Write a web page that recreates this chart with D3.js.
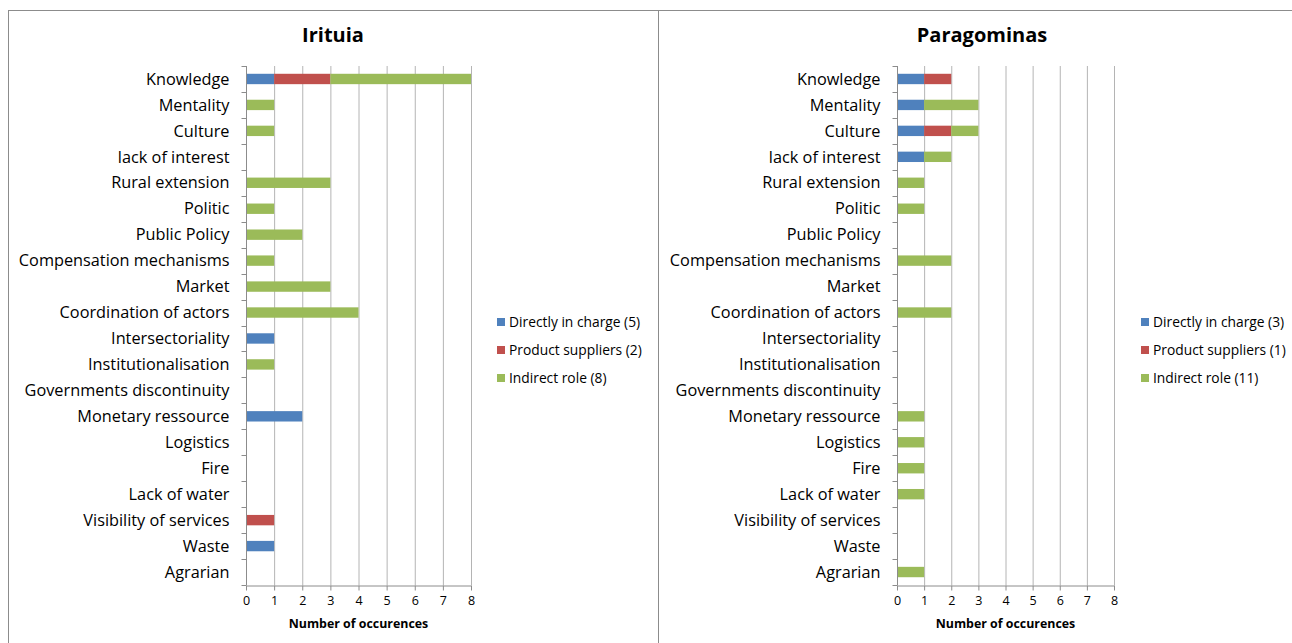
<!DOCTYPE html>
<html>
<head>
<meta charset="utf-8">
<script src="https://cdn.jsdelivr.net/npm/d3@7"></script>
<style>
  body { margin: 0; background: #fff; }
  svg { display: block; font-family: "Open Sans", sans-serif; }
</style>
</head>
<body>
<script>
const categories = ["Knowledge", "Mentality", "Culture", "lack of interest", "Rural extension",
  "Politic", "Public Policy", "Compensation mechanisms", "Market", "Coordination of actors",
  "Intersectoriality", "Institutionalisation", "Governments discontinuity", "Monetary ressource",
  "Logistics", "Fire", "Lack of water", "Visibility of services", "Waste", "Agrarian"];
const seriesKeys = ["direct", "supplier", "indirect"];
const xTicks = [0, 1, 2, 3, 4, 5, 6, 7, 8];

// Irituia
const irituiaDirect   = [1, 0, 0, 0, 0, 0, 0, 0, 0, 0, 1, 0, 0, 2, 0, 0, 0, 0, 1, 0];
const irituiaSupplier = [2, 0, 0, 0, 0, 0, 0, 0, 0, 0, 0, 0, 0, 0, 0, 0, 0, 1, 0, 0];
const irituiaIndirect = [5, 1, 1, 0, 3, 1, 2, 1, 3, 4, 0, 1, 0, 0, 0, 0, 0, 0, 0, 0];
const irituiaLegend = ["Directly in charge (5)", "Product suppliers (2)", "Indirect role (8)"];

// Paragominas
const paraDirect   = [1, 1, 1, 1, 0, 0, 0, 0, 0, 0, 0, 0, 0, 0, 0, 0, 0, 0, 0, 0];
const paraSupplier = [1, 0, 1, 0, 0, 0, 0, 0, 0, 0, 0, 0, 0, 0, 0, 0, 0, 0, 0, 0];
const paraIndirect = [0, 2, 1, 1, 1, 1, 0, 2, 0, 2, 0, 0, 0, 1, 1, 1, 1, 0, 0, 1];
const paraLegend = ["Directly in charge (3)", "Product suppliers (1)", "Indirect role (11)"];

const colors = ["#4F81BD", "#C0504D", "#9BBB59"];

const svg = d3.select("body").append("svg")
  .attr("width", 1292)
  .attr("height", 643);

// panel borders
svg.append("rect")
  .attr("x", 8.5).attr("y", 10.5)
  .attr("width", 650).attr("height", 640)
  .attr("fill", "none").attr("stroke", "#8c8c8c");
svg.append("line")
  .attr("x1", 659).attr("x2", 1292).attr("y1", 10.5).attr("y2", 10.5)
  .attr("stroke", "#8c8c8c");

function drawPanel(opts) {
  const data = categories.map((c, i) => ({
    cat: c, direct: opts.direct[i], supplier: opts.supplier[i], indirect: opts.indirect[i]
  }));
  const stacked = d3.stack().keys(seriesKeys)(data);

  const x = d3.scaleLinear().domain([0, 8]).range([opts.x0, opts.x1]);
  const y = d3.scaleBand().domain(categories).range([opts.top, opts.bottom]).paddingInner(0.6).paddingOuter(0.3);
  const yb = d3.scaleBand().domain(categories).range([opts.top, opts.bottom]);

  const g = svg.append("g");

  g.append("text")
    .attr("x", opts.titleX).attr("y", 42)
    .attr("text-anchor", "middle")
    .attr("font-size", 20).attr("font-weight", "bold")
    .attr("fill", "#000")
    .text(opts.title);

  // gridlines
  g.append("g").selectAll("line")
    .data(xTicks.slice(1))
    .join("line")
    .attr("x1", d => x(d) + 0.5).attr("x2", d => x(d) + 0.5)
    .attr("y1", opts.top).attr("y2", opts.bottom)
    .attr("stroke", "#b4b4b4");

  // bars
  g.append("g").selectAll("g")
    .data(stacked)
    .join("g")
    .attr("fill", (d, i) => colors[i])
    .selectAll("rect")
    .data(d => d.filter(s => s[1] > s[0]))
    .join("rect")
    .attr("x", d => x(d[0]))
    .attr("y", d => y(d.data.cat))
    .attr("width", d => x(d[1]) - x(d[0]))
    .attr("height", y.bandwidth());

  // y axis
  const yAxis = g.append("g")
    .attr("transform", `translate(${opts.x0 + 0.5},0)`);
  yAxis.append("line")
    .attr("y1", opts.top).attr("y2", opts.bottom)
    .attr("stroke", "#8c8c8c");
  yAxis.selectAll(".tk")
    .data(categories.concat(["end"]))
    .join("line")
    .attr("class", "tk")
    .attr("x1", -5).attr("x2", 0)
    .attr("y1", (d, i) => Math.round(opts.top + i * yb.step()) + 0.5)
    .attr("y2", (d, i) => Math.round(opts.top + i * yb.step()) + 0.5)
    .attr("stroke", "#8c8c8c");
  yAxis.selectAll("text")
    .data(categories)
    .join("text")
    .attr("x", -17)
    .attr("y", d => yb(d) + yb.bandwidth() / 2)
    .attr("dy", "0.35em")
    .attr("text-anchor", "end")
    .attr("font-size", 16.3)
    .attr("fill", "#000")
    .text(d => d);

  // x axis
  const xAxis = d3.axisBottom(x).tickValues(xTicks).tickSize(5).tickPadding(6).tickSizeOuter(0);
  const xg = g.append("g")
    .attr("transform", `translate(0,${opts.bottom + 0.5})`)
    .call(xAxis);
  xg.select(".domain").attr("stroke", "#8c8c8c");
  xg.selectAll(".tick line").attr("stroke", "#8c8c8c");
  xg.selectAll(".tick text").attr("font-size", 12.5).attr("fill", "#000")
    .attr("font-family", "Open Sans, sans-serif");

  g.append("text")
    .attr("x", (opts.x0 + opts.x1) / 2).attr("y", 628)
    .attr("text-anchor", "middle")
    .attr("font-size", 12.4).attr("font-weight", "bold")
    .attr("fill", "#000")
    .text("Number of occurences");

  // legend
  const lg = g.append("g").selectAll("g")
    .data(opts.legend)
    .join("g")
    .attr("transform", (d, i) => `translate(${opts.legendX},${322 + i * 28})`);
  lg.append("rect")
    .attr("x", 0).attr("y", -4)
    .attr("width", 8).attr("height", 8)
    .attr("fill", (d, i) => colors[i]);
  lg.append("text")
    .attr("x", 12).attr("y", 0)
    .attr("dy", "0.35em")
    .attr("font-size", 13.8)
    .attr("fill", "#000")
    .text(d => d);
}

drawPanel({
  title: "Irituia", titleX: 333,
  direct: irituiaDirect, supplier: irituiaSupplier, indirect: irituiaIndirect,
  legend: irituiaLegend,
  x0: 246, x1: 471, top: 66, bottom: 585, legendX: 497
});

drawPanel({
  title: "Paragominas", titleX: 982,
  direct: paraDirect, supplier: paraSupplier, indirect: paraIndirect,
  legend: paraLegend,
  x0: 897, x1: 1114, top: 66, bottom: 585, legendX: 1141
});
</script>
</body>
</html>
